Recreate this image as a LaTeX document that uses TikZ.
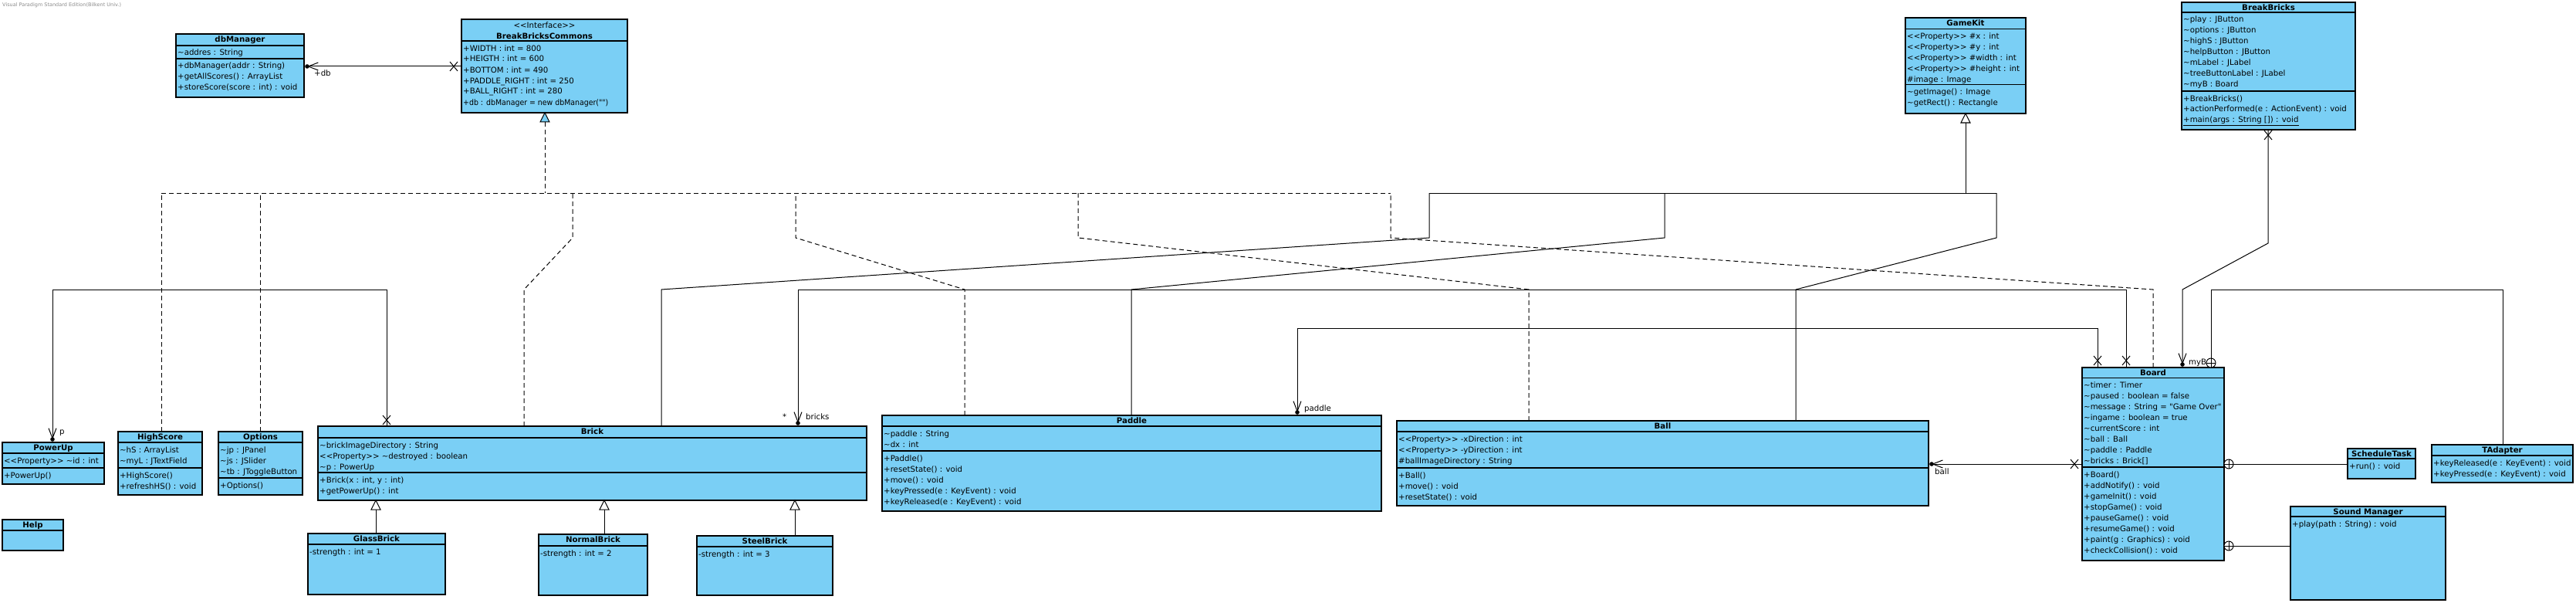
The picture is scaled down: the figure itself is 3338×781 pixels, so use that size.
\documentclass[tikz,border=0pt]{standalone}
\usepackage{fontspec}
\setmainfont{DejaVu Sans}[Ligatures=TeXOff]
\usepackage{graphicx}
\usetikzlibrary{arrows.meta}
\definecolor{umlblue}{RGB}{122,207,245}
\newcommand\tld{\textasciitilde}
\newcommand\xmk[2]{\draw[assoc] ({#1-5},{#2-6}) -- ({#1+5},{#2+6}) ({#1-5},{#2+6}) -- ({#1+5},{#2-6});}
\newcommand\cplus[2]{\draw[assoc,fill=white] (#1,#2) circle (6pt); \draw[assoc] ({#1-6},#2) -- ({#1+6},#2) (#1,{#2-6}) -- (#1,{#2+6});}
\newcommand\tri[3]{\draw[assoc,fill=#3] (#1,#2) -- ({#1-6},{#2+12}) -- ({#1+6},{#2+12}) -- cycle;}
\newcommand\dotm[2]{\fill (#1,#2) circle (2.8pt);}
\newcommand\sepx[2]{\draw[sepl] ([yshift=-#2pt]#1.north west) -- ([yshift=-#2pt]#1.north east);}
\newcommand\ucls[6]{%
  \node[cls, minimum width=#4pt, minimum height=#5pt] (#1) at (#2,#3) {};
  \node[ttl] (#1-t) at ({#2+#4/2},{#3+10.7}) {#6};}
\tikzset{
  cls/.style={draw=black, line width=1.25pt, fill=umlblue, inner sep=0pt, outer sep=0pt, anchor=north west},
  ttl/.style={font=\fontsize{10.2}{14}\selectfont\bfseries, anchor=base, inner sep=0pt},
  comp/.style={font=\fontsize{10.2}{14}\selectfont, anchor=north west, inner sep=0pt, align=left},
  sepl/.style={line width=1.05pt},
  assoc/.style={line width=1pt},
  real/.style={line width=1pt, dash pattern=on 6pt off 4pt},
  navtip/.style={-{Straight Barb[length=13pt,width=10pt]}, shorten >=4pt},
  lbl/.style={font=\fontsize{10.2}{12}\selectfont, inner sep=0pt, anchor=west},
}
\begin{document}
\begin{tikzpicture}[x=1pt,y=-1pt]
\fill[white] (0,0) rectangle (3338,781);
\useasboundingbox (0,0) rectangle (3338,781);
\node[anchor=west, font=\fontsize{6.5}{8}\selectfont, text=black!45, inner sep=0pt] (hdr) at (3,7) {Visual Paradigm Standard Edition(Bilkent Univ.)};

% ---------- classes ----------
\ucls{dbm}{228}{44}{166}{82}{dbManager}
\sepx{dbm}{15}\sepx{dbm}{32}
\node[comp] (dbm-a) at (230,62) {\strut\tld addres : String};
\node[comp] (dbm-m) at (230,79) {\strut+dbManager(addr : String)\\+getAllScores() : ArrayList\\+storeScore(score : int) : void};

\node[cls, minimum width=215pt, minimum height=121pt] (bbc) at (598,25) {};
\node[font=\fontsize{10.2}{14}\selectfont, anchor=base, inner sep=0pt] (bbc-s) at (705.5,37) {<<Interface>>};
\node[ttl] (bbc-t) at (705.5,51) {BreakBricksCommons};
\sepx{bbc}{28}
\node[comp] (bbc-a) at (600,56) {\strut+WIDTH : int = 800\\+HEIGTH : int = 600\\+BOTTOM : int = 490\\+PADDLE\_RIGHT : int = 250\\+BALL\_RIGHT : int = 280\\\scalebox{0.92}[1]{+db : dbManager = new dbManager("")}};

\ucls{gk}{2469}{23}{156}{124}{GameKit}
\sepx{gk}{14.5}\sepx{gk}{86.5}
\node[comp] (gk-a) at (2471,40.5) {\strut<<Property>> \#x : int\\<<Property>> \#y : int\\<<Property>> \#width : int\\<<Property>> \#height : int\\\#image : Image};
\node[comp] (gk-m) at (2471,112.5) {\strut\tld getImage() : Image\\\tld getRect() : Rectangle};

\ucls{bb}{2827}{3}{225}{165}{BreakBricks}
\sepx{bb}{13}\sepx{bb}{115}
\node[comp] (bb-a) at (2829,19) {\strut\tld play : JButton\\\tld options : JButton\\\tld highS : JButton\\\tld helpButton : JButton\\\tld mLabel : JLabel\\\tld treeButtonLabel : JLabel\\\tld myB : Board};
\node[comp] (bb-m) at (2829,121) {\strut+BreakBricks()\\+actionPerformed(e : ActionEvent) : void\\\underline{+main(args : String []) : void}};

\ucls{pu}{3}{573}{132}{54}{PowerUp}
\sepx{pu}{14}\sepx{pu}{33}
\node[comp] (pu-a) at (5,590) {\strut<<Property>> \tld id : int};
\node[comp] (pu-m) at (5,609) {\strut+PowerUp()};

\ucls{hs}{153}{559}{109}{82}{HighScore}
\sepx{hs}{14}\sepx{hs}{47}
\node[comp] (hs-a) at (155,576) {\strut\tld hS : ArrayList\\\tld myL : JTextField};
\node[comp] (hs-m) at (155,609) {\strut+HighScore()\\+refreshHS() : void};

\ucls{op}{283}{559}{109}{82}{Options}
\sepx{op}{14}\sepx{op}{60}
\node[comp] (op-a) at (285,576) {\strut\tld jp : JPanel\\\tld js : JSlider\\\tld tb : JToggleButton};
\node[comp] (op-m) at (285,622) {\strut+Options()};

\ucls{hp}{3}{673}{79}{40}{Help}
\sepx{hp}{14}

\ucls{br}{412}{552}{711}{96}{Brick}
\sepx{br}{15}\sepx{br}{60}
\node[comp] (br-a) at (414,570) {\strut\tld brickImageDirectory : String\\<<Property>> \tld destroyed : boolean\\\tld p : PowerUp};
\node[comp] (br-m) at (414,615) {\strut+Brick(x : int, y : int)\\+getPowerUp() : int};

\ucls{gb}{399}{691}{178}{79}{GlassBrick}
\sepx{gb}{14}
\node[comp] (gb-a) at (401,708) {\strut-strength : int = 1};
\ucls{nb}{698}{692}{141}{79}{NormalBrick}
\sepx{nb}{15}
\node[comp] (nb-a) at (700,710) {\strut-strength : int = 2};
\ucls{sb}{903}{694}{176}{77}{SteelBrick}
\sepx{sb}{14}
\node[comp] (sb-a) at (905,711) {\strut-strength : int = 3};

\ucls{pd}{1143}{538}{647}{124}{Paddle}
\sepx{pd}{14}\sepx{pd}{46}
\node[comp] (pd-a) at (1145,555) {\strut\tld paddle : String\\\tld dx : int};
\node[comp] (pd-m) at (1145,587) {\strut+Paddle()\\+resetState() : void\\+move() : void\\+keyPressed(e : KeyEvent) : void\\+keyReleased(e : KeyEvent) : void};

\ucls{bl}{1810}{545}{689}{110}{Ball}
\sepx{bl}{14}\sepx{bl}{61}
\node[comp] (bl-a) at (1812,562) {\strut<<Property>> -xDirection : int\\<<Property>> -yDirection : int\\\#ballImageDirectory : String};
\node[comp] (bl-m) at (1812,609) {\strut+Ball()\\+move() : void\\+resetState() : void};

\ucls{bd}{2698}{476}{184}{250}{Board}
\sepx{bd}{13.5}\sepx{bd}{129}
\node[comp] (bd-a) at (2700,492.5) {\strut\tld timer : Timer\\\tld paused : boolean = false\\\tld message : String = "Game Over"\\\tld ingame : boolean = true\\\tld currentScore : int\\\tld ball : Ball\\\tld paddle : Paddle\\\tld bricks : Brick[]};
\node[comp] (bd-m) at (2700,608) {\strut+Board()\\+addNotify() : void\\+gameInit() : void\\+stopGame() : void\\+pauseGame() : void\\+resumeGame() : void\\+paint(g : Graphics) : void\\+checkCollision() : void};

\ucls{st}{3042}{581}{88}{39}{ScheduleTask}
\sepx{st}{13}
\node[comp] (st-m) at (3044,597) {\strut+run() : void};

\ucls{ta}{3151}{576}{183}{49}{TAdapter}
\sepx{ta}{14}
\node[comp] (ta-m) at (3153,593) {\strut+keyReleased(e : KeyEvent) : void\\+keyPressed(e : KeyEvent) : void};

\ucls{sm}{2968}{656}{201}{121}{Sound Manager}
\sepx{sm}{13}
\node[comp] (sm-m) at (2970,672) {\strut+play(path : String) : void};

% ---------- realization tree to BreakBricksCommons ----------
\coordinate (rJ) at (706,250);
\coordinate (rHS) at (209,250);
\coordinate (rOP) at (337,250);
\coordinate (rBR) at (742,250);
\coordinate (rPD) at (1031,250);
\coordinate (rBL) at (1397,250);
\coordinate (rBD) at (1802,250);
\draw[real] (rHS) -- (rBD);
\draw[real] ([xshift=108pt,yshift=-12pt]bbc.south west) -- (rJ);
\draw[real] ([xshift=56pt]hs.north west) -- (rHS);
\draw[real] ([xshift=54pt]op.north west) -- (rOP);
\draw[real] ([xshift=267pt]br.north west) -- (679,375) -- (742,308) -- (rBR);
\draw[real] ([xshift=107pt]pd.north west) -- (1250,375) -- (1031,308) -- (rPD);
\draw[real] ([xshift=171pt]bl.north west) -- (1981,375) -- (1397,308) -- (rBL);
\draw[real] ([xshift=92pt]bd.north west) -- (2790,375) -- (1802,308) -- (rBD);
\tri{706}{146}{umlblue}

% ---------- generalization tree to GameKit ----------
\coordinate (gJ) at (2547,250);
\coordinate (gBR) at (1852,250);
\coordinate (gPD) at (2157,250);
\coordinate (gBL) at (2587,250);
\draw[assoc] (gBR) -- (gBL);
\draw[assoc] ([xshift=78pt,yshift=-12pt]gk.south west) -- (gJ);
\draw[assoc] ([xshift=445pt]br.north west) -- (857,375) -- (1852,308) -- (gBR);
\draw[assoc] ([xshift=323pt]pd.north west) -- (1466,375) -- (2157,308) -- (gPD);
\draw[assoc] ([xshift=517pt]bl.north west) -- (2327,375) -- (2587,308) -- (gBL);
\tri{2547}{147}{white}

% ---------- Brick subclasses ----------
\draw[assoc] ([xshift=88pt]gb.north west) -- ([xshift=75pt,yshift=-12pt]br.south west);
\draw[assoc] ([xshift=85pt]nb.north west) -- ([xshift=371pt,yshift=-12pt]br.south west);
\draw[assoc] ([xshift=127pt]sb.north west) -- ([xshift=618pt,yshift=-12pt]br.south west);
\tri{487}{648}{white}
\tri{783}{648}{white}
\tri{1030}{648}{white}

% ---------- associations ----------
\draw[assoc,navtip] ([yshift=-61pt]bbc.north west) -- ([yshift=-42pt]dbm.north east);
\xmk{588}{86}\dotm{398}{86}
\node[lbl] (ldb) at (407,95) {+db};

\draw[assoc,navtip] ([xshift=89pt]br.north west) -- (501,375) -- (68,375) -- ([xshift=65pt]pu.north west);
\xmk{501}{544}\dotm{68}{569}
\node[lbl] (lp) at (77,561) {p};

\draw[assoc,navtip] ([xshift=57pt]bd.north west) -- (2755,375) -- (1034,375) -- ([xshift=622pt]br.north west);
\xmk{2755}{467}\dotm{1034}{548}
\node[lbl] (lbs) at (1014,540) {*};
\node[lbl] (lbr) at (1044,540) {bricks};

\draw[assoc,navtip] ([xshift=20pt]bd.north west) -- (2718,425) -- (1681,425) -- ([xshift=538pt]pd.north west);
\xmk{2718}{467}\dotm{1681}{534}
\node[lbl] (lpd) at (1690,530) {paddle};

\draw[assoc,navtip] ([yshift=-125pt]bd.north west) -- ([yshift=-56pt]bl.north east);
\xmk{2688}{601}\dotm{2503}{601}
\node[lbl] (lbl) at (2507,611) {ball};

\draw[assoc,navtip] ([xshift=112pt]bb.south west) -- (2939,315) -- (2828,375) -- ([xshift=130pt]bd.north west);
\xmk{2939}{175}\dotm{2828}{472}
\node[lbl] (lmy) at (2836,470) {myB};

\draw[assoc] ([xshift=167pt,yshift=12pt]bd.north west) -- (2865,375) -- (3243,375) -- ([xshift=92pt]ta.north west);
\cplus{2865}{470}
\draw[assoc] ([xshift=12pt,yshift=-125pt]bd.north east) -- ([yshift=-20pt]st.north west);
\cplus{2888}{601}
\draw[assoc] ([xshift=12pt,yshift=-231pt]bd.north east) -- ([yshift=-51pt]sm.north west);
\cplus{2888}{707}
\end{tikzpicture}
\end{document}
